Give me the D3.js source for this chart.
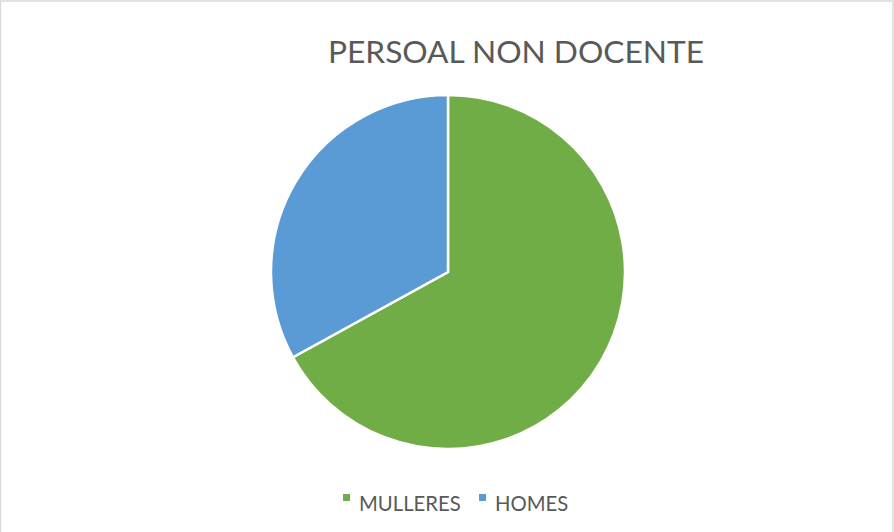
<!DOCTYPE html>
<html>
<head>
<meta charset="utf-8">
<script src="https://cdn.jsdelivr.net/npm/d3@7"></script>
<style>
  html, body { margin: 0; padding: 0; background: #fff; }
  svg { display: block; }
</style>
</head>
<body>
<svg id="chart" width="894" height="532"></svg>
<script>
const title = "PERSOAL NON DOCENTE";
const categories = ["MULLERES", "HOMES"];
const values = [67, 33];
const colors = ["#70AD47", "#5B9BD5"];

const W = 894, H = 532;
const svg = d3.select("#chart");

// chart border (light gray, top/left/right visible)
svg.append("rect")
  .attr("x", 0.5).attr("y", 1)
  .attr("width", W - 1.5).attr("height", H + 10)
  .attr("fill", "#fff")
  .attr("stroke", "#d9d9d9").attr("stroke-width", 1.5);

const font = "Lato, 'Open Sans', sans-serif";

svg.append("text")
  .attr("x", 516).attr("y", 63)
  .attr("text-anchor", "middle")
  .attr("font-family", font)
  .attr("font-size", 31.7)
  .attr("fill", "#595959")
  .text(title);

const cx = 448, cy = 272, r = 177;
const data = categories.map((c, i) => ({ name: c, value: values[i], color: colors[i] }));
const pie = d3.pie().sort(null).value(d => d.value);
const arc = d3.arc().innerRadius(0).outerRadius(r);

svg.append("g")
  .attr("transform", `translate(${cx},${cy})`)
  .selectAll("path")
  .data(pie(data))
  .join("path")
  .attr("d", arc)
  .attr("fill", d => d.data.color)
  .attr("stroke", "#fff")
  .attr("stroke-width", 2.5)
  .attr("stroke-linejoin", "miter");

// legend
const legendX = [343, 479];
const lg = svg.append("g");
data.forEach((d, i) => {
  lg.append("rect")
    .attr("x", legendX[i]).attr("y", 494)
    .attr("width", 7).attr("height", 7)
    .attr("fill", d.color);
  lg.append("text")
    .attr("x", legendX[i] + 16).attr("y", 511)
    .attr("font-family", font)
    .attr("font-size", 20.3)
    .attr("fill", "#595959")
    .text(d.name);
});
</script>
</body>
</html>
